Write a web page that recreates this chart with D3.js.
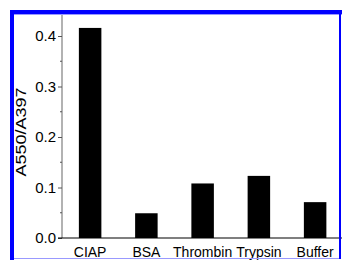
<!DOCTYPE html>
<html><head><meta charset="utf-8">
<script src="https://cdn.jsdelivr.net/npm/d3@7"></script>
<style>html,body{margin:0;padding:0;background:#fff;}svg{display:block;}</style>
</head><body>
<script>
const categories = ["CIAP", "BSA", "Thrombin", "Trypsin", "Buffer"];
const values = [0.416, 0.049, 0.108, 0.123, 0.071];
const yTicks = [0.0, 0.1, 0.2, 0.3, 0.4];
const yMinorTicks = [0.05, 0.15, 0.25, 0.35];
const yLabel = "A550/A397";

const W = 342, H = 260;
const svg = d3.select("body").append("svg").attr("width", W).attr("height", H);

const x0 = 62, y0 = 238;
const x = d3.scaleBand().domain(categories).range([x0, x0 + 5 * 56.25]).paddingInner(0.6).paddingOuter(0.3);
const y = d3.scaleLinear().domain([0, 0.4416]).range([y0, 15]);

// bars
svg.selectAll("rect.bar").data(categories).enter().append("rect")
  .attr("class", "bar")
  .attr("x", d => x(d))
  .attr("width", x.bandwidth())
  .attr("y", (d, i) => y(values[i]))
  .attr("height", (d, i) => y(0) - y(values[i]))
  .attr("fill", "#000");

// y axis
const yAxis = svg.append("g").attr("transform", `translate(${x0},0)`)
  .call(d3.axisLeft(y).tickValues(yTicks).tickFormat(d3.format(".1f")).tickSize(4).tickPadding(2));
yAxis.select(".domain").attr("stroke", "#999").attr("stroke-width", 1.5).attr("d", `M0,${y(0.4416)}V${y0}`);
yAxis.selectAll(".tick line").attr("stroke", "#555");
yAxis.selectAll(".tick text").attr("fill", "#000").style("font-family", "Liberation Sans, Arial, sans-serif").style("font-size", "15px");
svg.append("g").selectAll("line").data(yMinorTicks).enter().append("line")
  .attr("x1", x0 - 2).attr("x2", x0).attr("y1", d => y(d)).attr("y2", d => y(d))
  .attr("stroke", "#555");

// x axis
const xAxis = svg.append("g").attr("transform", `translate(0,${y0})`)
  .call(d3.axisBottom(x).tickSize(0).tickPadding(9));
xAxis.select(".domain").attr("stroke", "#000").attr("stroke-width", 1.2).attr("d", `M${x0 - 4},0H${W}`);
xAxis.selectAll(".tick text").attr("fill", "#000").style("font-family", "Liberation Sans, Arial, sans-serif").style("font-size", "14px");

// y label
svg.append("text")
  .attr("transform", `translate(26,132) rotate(-90)`)
  .attr("text-anchor", "middle")
  .attr("textLength", 89)
  .attr("lengthAdjust", "spacingAndGlyphs")
  .style("font-family", "Liberation Sans, Arial, sans-serif")
  .style("font-size", "15px")
  .attr("fill", "#000")
  .text(yLabel);

// blue frame
svg.append("rect").attr("x", 10).attr("y", 10).attr("width", 4).attr("height", H - 10).attr("fill", "#0000ff");
svg.append("rect").attr("x", 10).attr("y", 10).attr("width", W - 10).attr("height", 4).attr("fill", "#0000ff");
svg.append("line").attr("x1", 14).attr("x2", W).attr("y1", 14.5).attr("y2", 14.5).attr("stroke", "#9999ff");
svg.append("rect").attr("x", 339).attr("y", 14).attr("width", 2).attr("height", 245).attr("fill", "#0000ff");
svg.append("line").attr("x1", 14).attr("x2", 339).attr("y1", 258.5).attr("y2", 258.5).attr("stroke", "#9999ff");
</script>
</body></html>
